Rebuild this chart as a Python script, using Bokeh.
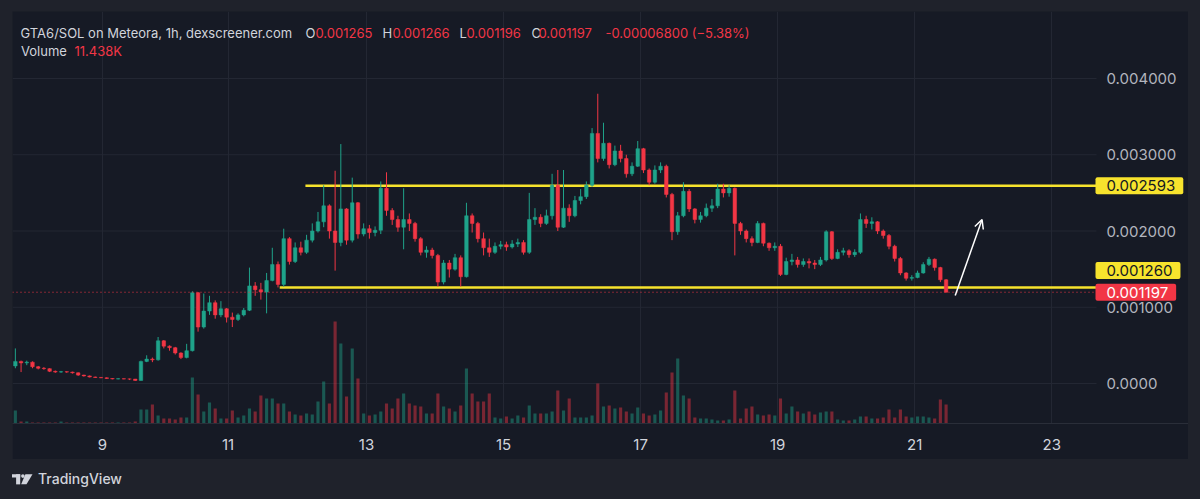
import numpy as np
from bokeh.plotting import figure
from bokeh.models import (Range1d, FixedTicker, CustomJSTickFormatter, Label, Arrow,
                          OpenHead, Div, ColumnDataSource, GlobalInlineStyleSheet)
from bokeh.layouts import column
from bokeh.embed import file_html
from bokeh.resources import INLINE

# ---------------- data (2-hour bars, prices in 1e-6 SOL) ----------------
first_open_u = 230
close_u = [
    290, 270, 280, 220, 200, 195, 160, 150, 155, 150,
    140, 110, 100, 85, 80, 75, 65, 60, 62, 60,
    58, 40, 290, 320, 310, 560, 490, 470, 400, 340,
    430, 1190, 740, 950, 1060, 900, 980, 870, 840, 900,
    960, 1280, 1230, 1200, 1350, 1560, 1300, 1900, 1600, 1780,
    1720, 1880, 2000, 2120, 2330, 2000, 1850, 2290, 1880, 2370,
    1960, 2030, 1980, 2010, 2560, 2270, 2150, 2050, 2150, 2100,
    1900, 1720, 1750, 1680, 1330, 1580, 1500, 1650, 1400, 2200,
    2100, 1900, 1780, 1720, 1800, 1820, 1790, 1830, 1850, 1720,
    2150, 2180, 2100, 2200, 2600, 2050, 2300, 2200, 2400, 2450,
    2600, 3280, 2950, 3150, 2870, 3050, 2950, 2750, 2850, 3080,
    2800, 2640, 2800, 2850, 2480, 1990, 2200, 2520, 2290, 2150,
    2200, 2300, 2330, 2550, 2500, 2560, 2100, 2000, 1900, 1850,
    2100, 1840, 1780, 1800, 1430, 1600, 1620, 1560, 1600, 1580,
    1560, 1620, 1990, 1640, 1720, 1740, 1690, 1720, 2150, 2100,
    2120, 2000, 1940, 1800, 1640, 1450, 1380, 1390, 1450, 1560,
    1630, 1520, 1360, 1197,
]
high_u = [
    460, 300, 300, 290, 230, 215, 200, 170, 165, 160,
    155, 145, 115, 105, 90, 85, 80, 70, 68, 66,
    64, 60, 300, 370, 340, 610, 570, 500, 480, 410,
    520, 1210, 1200, 1180, 1150, 1090, 1080, 990, 930, 920,
    990, 1520, 1330, 1320, 1450, 1780, 1600, 2030, 1920, 1850,
    1860, 1950, 2100, 2250, 2600, 2350, 2790, 3140, 2300, 2700,
    2380, 2100, 2080, 2060, 2650, 2770, 2300, 2200, 2560, 2230,
    2120, 1920, 1800, 1780, 1700, 1620, 1620, 1700, 1680, 2370,
    2230, 2120, 1980, 1900, 1850, 1870, 1860, 1880, 1900, 1880,
    2500, 2300, 2220, 2280, 2750, 2800, 2800, 2350, 2460, 2550,
    2650, 3350, 3800, 3420, 3160, 3120, 3130, 3000, 2900, 3180,
    3090, 2820, 2860, 2900, 2870, 2500, 2250, 2640, 2550, 2300,
    2250, 2360, 2420, 2620, 2620, 2600, 2570, 2120, 2020, 1930,
    2130, 2110, 1850, 1850, 1830, 1650, 1700, 1660, 1640, 1640,
    1620, 1660, 2010, 2000, 1760, 1780, 1760, 1760, 2230, 2200,
    2180, 2130, 2020, 1960, 1820, 1660, 1460, 1420, 1480, 1590,
    1660, 1640, 1530, 1370,
]
low_u = [
    200, 150, 240, 200, 185, 180, 150, 140, 140, 140,
    130, 100, 90, 80, 75, 70, 60, 55, 55, 55,
    45, 35, 38, 280, 280, 300, 460, 430, 380, 320,
    330, 420, 680, 720, 900, 850, 870, 800, 740, 820,
    880, 950, 1150, 1100, 920, 1340, 1260, 1270, 1560, 1580,
    1680, 1700, 1850, 1980, 2050, 1900, 1480, 1800, 1820, 1850,
    1900, 1930, 1900, 1930, 1960, 2200, 2080, 1990, 1760, 2000,
    1860, 1680, 1650, 1640, 1270, 1300, 1390, 1480, 1270, 1390,
    1980, 1850, 1680, 1660, 1700, 1760, 1740, 1770, 1790, 1690,
    1700, 2080, 2050, 2080, 2150, 2000, 2040, 2120, 2180, 2350,
    2420, 2580, 2900, 2920, 2820, 2850, 2900, 2700, 2720, 2840,
    2760, 2600, 2620, 2760, 2440, 1880, 1950, 2180, 2250, 2100,
    2110, 2180, 2250, 2300, 2440, 2450, 1680, 1950, 1850, 1800,
    1840, 1800, 1740, 1740, 1410, 1420, 1550, 1520, 1530, 1510,
    1500, 1540, 1600, 1620, 1630, 1680, 1650, 1660, 1700, 2040,
    2020, 1960, 1900, 1760, 1600, 1420, 1350, 1350, 1380, 1440,
    1540, 1480, 1330, 1196,
]
volume_k = [
    6.5, 1, 1, 0.5, 0.5, 0.5, 0.5, 0.5, 1, 0.5,
    0.5, 0.5, 0.5, 0.5, 0.5, 0.5, 0.5, 0.5, 0.5, 0.5,
    0.5, 1, 7, 7, 9.5, 4, 2.5, 2.5, 2, 3,
    3, 23, 14.5, 6, 10.5, 7.5, 2.5, 2.5, 6.5, 3,
    4, 7.5, 6, 14, 12.5, 12.5, 10, 10, 6, 4.5,
    4, 5, 4.5, 11, 21, 10, 51, 40, 13.5, 37.5,
    22.5, 5, 4, 4.5, 6, 10, 7.5, 12.5, 15, 10,
    9, 8.5, 5, 5, 15, 8.5, 7.5, 6, 9, 27.5,
    15, 11, 11, 15, 3, 2.5, 3.5, 2.5, 4, 3,
    9, 5, 5, 5, 6, 16.5, 6.5, 12.5, 3, 3,
    3, 4, 20, 8.5, 9, 7.5, 8, 6, 5, 8,
    5, 4, 4.5, 6.5, 15.5, 25.5, 32.5, 14, 12.5, 3,
    2.5, 2.5, 2, 1.5, 1.5, 2, 16.5, 2.5, 7.5, 8.5,
    4.5, 4, 4.5, 4, 12.5, 5, 8.5, 6, 5, 6,
    4.5, 5.5, 6, 6, 2, 1.5, 1.5, 2, 3.5, 3.5,
    2.5, 2.5, 3, 7, 3, 7, 3.5, 3, 3.5, 3.5,
    3, 2.5, 12, 9.5,
]
day_labels = ["9", "11", "13", "15", "17", "19", "21", "23"]
day_tick_bars = [15.25, 37.25, 61.5, 85.5, 109.5, 133.5, 157.5, 181.5]
price_ticks = [0.0, 0.001, 0.002, 0.003, 0.004]
resistance_level = 0.002593
support_level = 0.001260
resistance_from_bar = 50.8
support_from_bar = 46.3
last_price = 0.001197
arrow_from = (164.6, 0.001154)
arrow_to = (169.3, 0.002151)
header_title = "GTA6/SOL on Meteora, 1h, dexscreener.com"
header_ohlc = [("O", "0.001265"), ("H", "0.001266"), ("L", "0.001196"), ("C", "0.001197")]
header_change = "-0.00006800 (\u22125.38%)"
header_volume = "11.438K"

# ---------------- styling / layout ----------------
OUTER = "#1f222b"
PANE = "#161a25"
GRID = "#232733"
UP = "#1fa38a"
DOWN = "#f23645"
YELLOW = "#f7e32d"
TXT = "#d1d4dc"
AXT = "#b2b5be"
FONT = "Inter"

# page geometry (page has no margin with this template)
PANE_LEFT, PANE_TOP = 12, 11
FRAME_W, FRAME_H = 1176, 412          # frame includes the price-scale strip
SCALE_LEFT = 1096                      # where the price scale strip starts
BAR_PX = 5.71
X_START = -0.5
X_END = X_START + FRAME_W / BAR_PX
PRICE_PER_PX = 0.001 / 76.25
Y_END = 0.004 + (78 - PANE_TOP) * PRICE_PER_PX
Y_START = Y_END - FRAME_H * PRICE_PER_PX
VOL_FRAC = 0.2476


def dx(px):
    return X_START + (px - PANE_LEFT) / BAR_PX


def dy(py):
    return Y_END - (py - PANE_TOP) * PRICE_PER_PX


X_SCALE = dx(SCALE_LEFT)

close = np.array(close_u, dtype=float) * 1e-6
open_ = np.array([first_open_u] + close_u[:-1], dtype=float) * 1e-6
high = np.array(high_u, dtype=float) * 1e-6
low = np.array(low_u, dtype=float) * 1e-6
vol = np.array(volume_k, dtype=float)
idx = np.arange(len(close_u))
up = close >= open_
colors = [UP if u else DOWN for u in up]

src = ColumnDataSource(dict(
    x=idx, open=open_, close=close, high=high, low=low,
    top=np.maximum(open_, close), bottom=np.minimum(open_, close),
    vol=vol, color=colors,
))

p = figure(width=FRAME_W, height=448,
           x_range=Range1d(X_START, X_END), y_range=Range1d(Y_START, Y_END),
           output_backend="svg", toolbar_location=None, y_axis_location=None,
           min_border_left=0, min_border_top=0, min_border_right=0, min_border_bottom=36,
           background_fill_color=PANE, border_fill_color=PANE, outline_line_color=None,
           margin=(PANE_TOP, 0, 0, PANE_LEFT))

p.extra_y_ranges = {"vol": Range1d(0, vol.max() / VOL_FRAC)}

# horizontal price grid (stops at the price scale)
p.segment(x0=[X_START] * len(price_ticks), x1=[X_SCALE] * len(price_ticks),
          y0=price_ticks, y1=price_ticks, line_color=GRID, line_width=1, level="underlay")

# volume
p.vbar(x="x", top="vol", bottom=0, width=0.55, source=src, y_range_name="vol",
       fill_color="color", line_color=None, fill_alpha=0.45)

# level lines
p.segment(x0=[resistance_from_bar, support_from_bar], y0=[resistance_level, support_level],
          x1=[X_SCALE, X_SCALE], y1=[resistance_level, support_level],
          line_color=YELLOW, line_width=2.5)

# candles
p.segment(x0="x", y0="low", x1="x", y1="high", source=src, line_color="color", line_width=1)
p.vbar(x="x", top="top", bottom="bottom", width=0.62, source=src,
       fill_color="color", line_color="color", line_width=0.5)

# last price dotted line
p.segment(x0=[X_START], x1=[X_SCALE], y0=[last_price], y1=[last_price],
          line_color=DOWN, line_dash="1 3", line_width=1)

p.add_layout(Arrow(end=OpenHead(size=9, line_color="white", line_width=1.5),
                   x_start=arrow_from[0], y_start=arrow_from[1],
                   x_end=arrow_to[0], y_end=arrow_to[1],
                   line_color="white", line_width=1.5))

# time axis
p.xaxis.ticker = FixedTicker(ticks=day_tick_bars)
p.xaxis.formatter = CustomJSTickFormatter(
    args=dict(day_pos=day_tick_bars, day_txt=day_labels),
    code="""
const i = day_pos.findIndex(t => Math.abs(t - tick) < 1e-6);
return i >= 0 ? day_txt[i] : "";
""")
ax = p.xaxis[0]
ax.major_tick_line_color = None
ax.minor_tick_line_color = None
ax.major_label_text_font = FONT
ax.major_label_text_font_size = "15px"
ax.major_label_standoff = 9
ax.major_label_text_color = TXT
ax.axis_line_color = "#2a2e39"
p.xgrid.grid_line_color = GRID
p.ygrid.grid_line_color = None

# price scale labels
for t in price_ticks:
    p.add_layout(Label(x=dx(1106), y=t, text=("0.0000" if t == 0 else f"{t:.6f}"),
                       text_font=FONT, text_font_size="15px", text_color=AXT,
                       text_align="left", text_baseline="middle"))


# price tags on the scale
def tag(y, text, fill, color):
    p.add_layout(Label(x=dx(1095), y=y, text=text, text_font=FONT, text_font_size="15px",
                       text_color=color, text_align="left", text_baseline="middle",
                       background_fill_color=fill, border_radius=2,
                       padding=dict(left=11, right=8, top=3, bottom=3)))


tag(resistance_level, f"{resistance_level:.6f}", YELLOW, "#131722")
tag(support_level + 17 * PRICE_PER_PX, f"{support_level:.6f}", YELLOW, "#131722")
tag(last_price, f"{last_price:.6f}", DOWN, "#ffffff")


# header legend
def hlabel(px, py, text, color):
    p.add_layout(Label(x=dx(px), y=dy(py), text=text, text_font=FONT, text_font_size="13px",
                       text_color=color, text_align="left", text_baseline="middle"))


hlabel(20, 32, header_title, TXT)
for (letter, val), lx in zip(header_ohlc, [305, 382, 459, 531]):
    hlabel(lx, 32, letter, TXT)
    hlabel(lx + (10 if letter in "OH" else 7), 32, val, DOWN)
hlabel(605, 32, header_change, DOWN)
hlabel(20.5, 50, "Volume", TXT)
hlabel(74, 50, header_volume, DOWN)

logo_svg = (
    '<svg width="21" height="11" viewBox="0 0 22 11" xmlns="http://www.w3.org/2000/svg">'
    f'<rect x="0" y="0" width="8.6" height="3.4" fill="{TXT}"/>'
    f'<rect x="4.3" y="0" width="4.3" height="10.6" fill="{TXT}"/>'
    f'<circle cx="11.4" cy="1.9" r="1.9" fill="{TXT}"/>'
    f'<polygon points="14,0 21.5,0 15.2,10.6 9.6,10.6" fill="{TXT}"/>'
    '</svg>'
)
logo = Div(text=(
    '<div style="display:flex;align-items:center;box-sizing:border-box;height:40px;'
    f'padding-left:12px;gap:5px;font-family:Inter;font-size:14px;'
    f'font-weight:500;color:{TXT};">{logo_svg}<span>TradingView</span></div>'),
    width=PANE_LEFT + FRAME_W, height=40, margin=0,
    styles={"background-color": OUTER})

layout = column(p, logo, spacing=0)
layout.stylesheets = [GlobalInlineStyleSheet(css=f"html, body {{ background-color: {OUTER}; }}")]

open("out.html", "w").write(file_html(layout, INLINE))
